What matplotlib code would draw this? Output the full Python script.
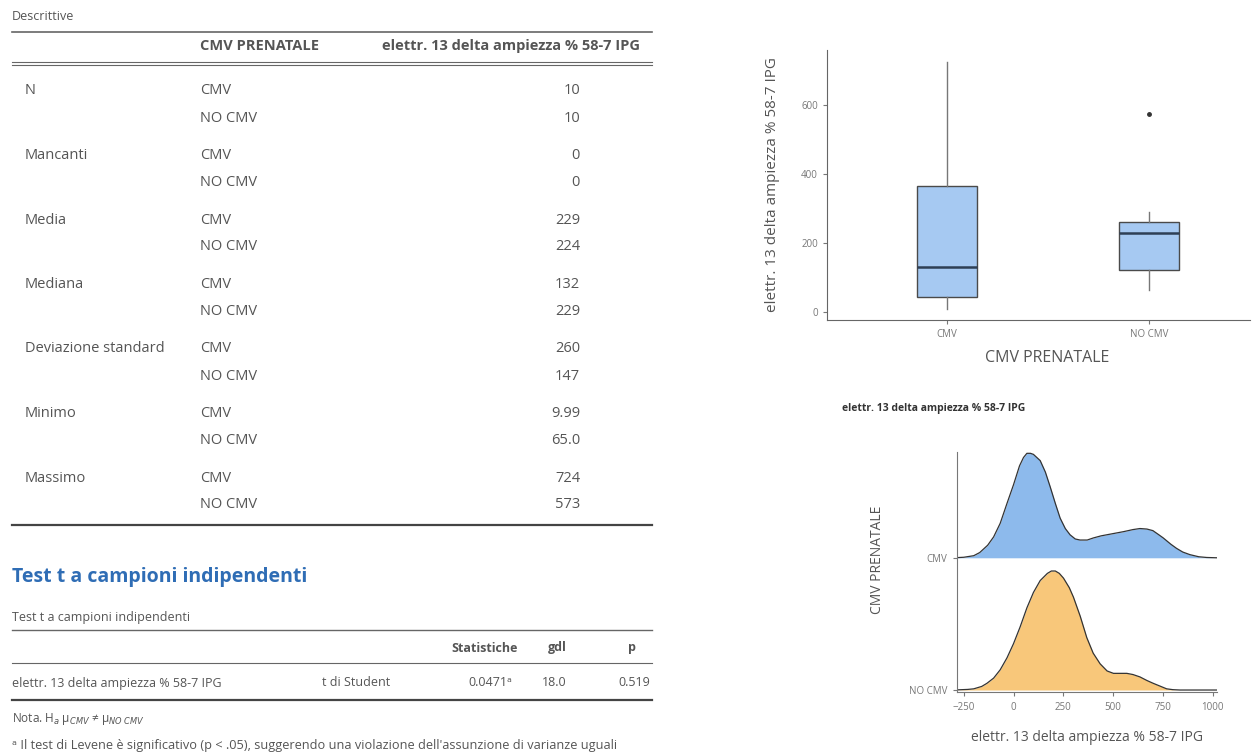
import matplotlib.pyplot as plt
from matplotlib.lines import Line2D

# Dati tabella descrittive
statistiche = ['N', 'Mancanti', 'Media', 'Mediana', 'Deviazione standard', 'Minimo', 'Massimo']
gruppi = ['CMV', 'NO CMV']
val_cmv = ['10', '0', '229', '132', '260', '9.99', '724']
val_nocmv = ['10', '0', '224', '229', '147', '65.0', '573']

# Dati test t
test_var = 'elettr. 13 delta ampiezza % 58-7 IPG'
test_nome = 't di Student'
test_stat = '0.0471ᵃ'
test_gdl = '18.0'
test_p = '0.519'

# Dati boxplot
box_q1 = [44, 122]
box_med = [132, 229]
box_q3 = [366, 262]
box_low = [9.99, 65]
box_high = [724, 291]
box_out = [[], [573]]

# Curve di densita (altezza relativa al picco)
x_cmv = [-300, -250, -200, -170, -130, -100, -67, -33, 0, 30, 50, 67, 85, 100, 134, 160, 184, 210, 234,
         260, 284, 310, 334, 370, 401, 440, 468, 510, 552, 600, 635, 670, 700, 730, 752, 790, 819,
         850, 886, 930, 970, 1020]
h_cmv = [0, 0.005, 0.02, 0.05, 0.12, 0.2, 0.33, 0.52, 0.7, 0.88, 0.96, 1.0, 1.0, 0.99, 0.93, 0.82,
         0.68, 0.52, 0.38, 0.28, 0.22, 0.18, 0.17, 0.17, 0.19, 0.21, 0.22, 0.235, 0.25, 0.27, 0.28,
         0.275, 0.26, 0.22, 0.19, 0.13, 0.09, 0.055, 0.03, 0.01, 0.003, 0]
x_nocmv = [-300, -230, -200, -160, -134, -100, -67, -33, 0, 33, 67, 100, 134, 170, 190, 210, 230, 251,
           280, 301, 335, 368, 400, 435, 470, 502, 535, 569, 600, 635, 670, 702, 740, 769, 800, 836,
           1020]
h_nocmv = [0, 0.005, 0.01, 0.03, 0.056, 0.1, 0.17, 0.27, 0.39, 0.53, 0.69, 0.82, 0.92, 0.98, 1.0,
           1.0, 0.98, 0.94, 0.86, 0.78, 0.62, 0.44, 0.31, 0.22, 0.16, 0.14, 0.14, 0.14, 0.13, 0.11,
           0.08, 0.056, 0.03, 0.01, 0.003, 0, 0]
picco_cmv = 0.79
picco_nocmv = 0.90

W, H = 1255, 756
plt.rcParams['font.family'] = ['Open Sans', 'DejaVu Sans']
fig = plt.figure(figsize=(W / 100, H / 100), dpi=100)

testo = '#555555'


def px(x, y):
    return x / W, 1 - y / H


def scrivi(x, y, s, **kw):
    kw.setdefault('color', testo)
    kw.setdefault('fontsize', 10.5)
    kw.setdefault('va', 'center')
    fig.text(*px(x, y), s, **kw)


def riga(x0, x1, y, lw=1.0, color='#666666'):
    a, b = px(x0, y)
    c, _ = px(x1, y)
    fig.add_artist(Line2D([a, c], [b, b], lw=lw, color=color))


# --- Tabella descrittive ---
scrivi(12, 17, 'Descrittive', fontsize=9)
riga(12, 652, 32, lw=1.2)
scrivi(200, 46, 'CMV PRENATALE', fontsize=10.5, fontweight='bold')
scrivi(640, 46, test_var, fontsize=10.5, fontweight='bold', ha='right')
riga(12, 652, 62, lw=0.8)
riga(12, 652, 65, lw=0.8)
y0 = 91
for i, nome in enumerate(statistiche):
    y = y0 + i * 64.5
    scrivi(25, y, nome)
    scrivi(200, y, gruppi[0])
    scrivi(200, y + 27, gruppi[1])
    scrivi(580, y, val_cmv[i], ha='right')
    scrivi(580, y + 27, val_nocmv[i], ha='right')
riga(12, 652, 525, lw=1.6, color='#444444')

# --- Test t ---
scrivi(12, 577, 'Test t a campioni indipendenti', fontsize=14, fontweight='bold', color='#2f6db5')
scrivi(12, 618, 'Test t a campioni indipendenti', fontsize=9)
riga(12, 652, 630, lw=1.0)
scrivi(518, 648, 'Statistiche', fontsize=9, fontweight='bold', ha='right')
scrivi(567, 648, 'gdl', fontsize=9, fontweight='bold', ha='right')
scrivi(632, 648, 'p', fontsize=9, fontweight='bold', ha='center')
riga(12, 652, 663, lw=0.8)
scrivi(12, 683, test_var, fontsize=9)
scrivi(322, 683, test_nome, fontsize=9)
scrivi(512, 683, test_stat, fontsize=9, ha='right')
scrivi(567, 683, test_gdl, fontsize=9, ha='right')
scrivi(650, 683, test_p, fontsize=9, ha='right')
riga(12, 652, 700, lw=1.6, color='#444444')
scrivi(12, 719, r'Nota. H$_a$ μ$_{CMV}$ ≠ μ$_{NO\ CMV}$', fontsize=8.5)
scrivi(12, 745, "ᵃ Il test di Levene è significativo (p < .05), suggerendo una violazione "
                "dell'assunzione di varianze uguali", fontsize=9.2)

# --- Boxplot ---
ax1 = fig.add_axes([827 / W, 1 - 320 / H, 423 / W, 270 / H])
stats = []
for i, g in enumerate(gruppi):
    stats.append({'label': g, 'q1': box_q1[i], 'med': box_med[i], 'q3': box_q3[i],
                  'whislo': box_low[i], 'whishi': box_high[i], 'fliers': box_out[i]})
ax1.bxp(stats, positions=[1, 2], widths=0.3, patch_artist=True, showcaps=False,
        boxprops=dict(facecolor='#a6c9f2', edgecolor='#4a4a4a', lw=1.0),
        medianprops=dict(color='#2e3f55', lw=1.8),
        whiskerprops=dict(color='#777777', lw=1.0),
        flierprops=dict(marker='o', markersize=2.5, markerfacecolor='#333333', markeredgecolor='#333333'))
ax1.set_xlim(0.406, 2.5)
ax1.set_ylim(-23, 760)
ax1.set_yticks([0, 200, 400, 600])
ax1.spines[['top', 'right']].set_visible(False)
for s in ['left', 'bottom']:
    ax1.spines[s].set_color('#666666')
ax1.tick_params(labelsize=7, colors='#777777', labelcolor='#777777', length=3)
ax1.set_xlabel('CMV PRENATALE', fontsize=11.5, color='#555555')
ax1.xaxis.set_label_coords(0.52, -0.11)
ax1.set_ylabel(test_var, fontsize=11, color='#555555')
ax1.yaxis.set_label_coords(-0.11, 0.5)

# --- Ridge plot ---
ax2 = fig.add_axes([957 / W, 1 - 692 / H, 260 / W, 240 / H])
ax2.fill_between(x_cmv, 1, [1 + h * picco_cmv for h in h_cmv], color='#8dbaec', lw=0)
ax2.plot(x_cmv, [1 + h * picco_cmv for h in h_cmv], color='#333333', lw=0.9)
ax2.fill_between(x_nocmv, 0, [h * picco_nocmv for h in h_nocmv], color='#f8c77a', lw=0)
ax2.plot(x_nocmv, [h * picco_nocmv for h in h_nocmv], color='#333333', lw=0.9)
ax2.set_xlim(-284, 1022)
ax2.set_ylim(-0.015, 1.8)
ax2.set_xticks([-250, 0, 250, 500, 750, 1000])
ax2.set_yticks([0, 1])
ax2.set_yticklabels(['NO CMV', 'CMV'])
ax2.spines[['top', 'right']].set_visible(False)
for s in ['left', 'bottom']:
    ax2.spines[s].set_color('#777777')
ax2.tick_params(labelsize=7, colors='#777777', labelcolor='#777777', length=3, pad=4)
ax2.set_xlabel(test_var, fontsize=10, color='#555555')
ax2.xaxis.set_label_coords(0.5, -0.16)
ax2.set_ylabel('CMV PRENATALE', fontsize=10, color='#555555')
ax2.yaxis.set_label_coords(-0.277, 0.55)
scrivi(842, 408, test_var, fontsize=7.5, fontweight='bold', color='#333333')

fig.savefig('out.png', dpi=100)
